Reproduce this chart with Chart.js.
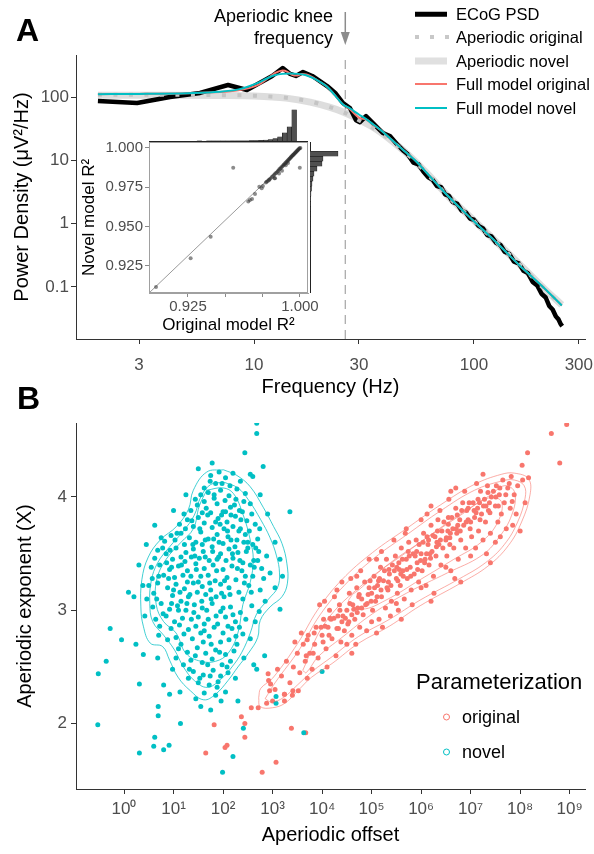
<!DOCTYPE html>
<html lang="en">
<head>
<meta charset="UTF-8">
<meta name="viewport" content="width=device-width, initial-scale=1.0">
<title>Aperiodic knee fits</title>
<script src="https://cdn.jsdelivr.net/npm/chart.js"></script>
<style>
  body { margin: 0; background: #fff; }
  #fig { position: relative; width: 594px; height: 854px; overflow: hidden;
         font-family: "Liberation Sans", Arial, sans-serif; color: #000; }
  #fig canvas { position: absolute; }
  .t { position: absolute; white-space: nowrap; line-height: 1; transform: translateY(-50%); }
  .panel { font-weight: bold; font-size: 32px; }
  .leg { font-size: 16.5px; }
  .key { position: absolute; transform: translateY(-50%); }
</style>
</head>
<body>
<div id="fig">
  <canvas id="psdChart" width="594" height="400" style="left:0px;top:0px"></canvas>
  <canvas id="histTop" width="159" height="42" style="left:149px;top:100px"></canvas>
  <canvas id="r2Chart" width="250" height="210" style="left:70px;top:130px"></canvas>
  <canvas id="histRight" width="40" height="151" style="left:309px;top:142px"></canvas>
  <canvas id="paramChart" width="594" height="454" style="left:0px;top:400px"></canvas>

  <div class="t panel" style="left:16px;top:30px">A</div>
  <div class="t panel" style="left:17px;top:398px">B</div>

  <div class="t" style="right:261px;top:16px;font-size:18px">Aperiodic knee</div>
  <div class="t" style="right:261px;top:38px;font-size:18px">frequency</div>

  <div class="key" style="left:415px;top:14px;width:32px;height:4.5px;background:#000"></div>
  <div class="key" style="left:415px;top:37px;width:34px;height:4px;background:repeating-linear-gradient(90deg,#c8c8c8 0 4px,transparent 4px 15px)"></div>
  <div class="key" style="left:415px;top:61px;width:32px;height:7px;background:#e0e0e0"></div>
  <div class="key" style="left:415px;top:84px;width:32px;height:2px;background:#F8766D"></div>
  <div class="key" style="left:415px;top:108px;width:32px;height:2px;background:#00BFC4"></div>
  <div class="t leg" style="left:456px;top:14px">ECoG PSD</div>
  <div class="t leg" style="left:456px;top:37px">Aperiodic original</div>
  <div class="t leg" style="left:456px;top:61px">Aperiodic novel</div>
  <div class="t leg" style="left:456px;top:84px">Full model original</div>
  <div class="t leg" style="left:456px;top:108px">Full model novel</div>

  <div class="t" style="left:416px;top:682px;font-size:22px">Parameterization</div>
  <div class="key" style="left:443px;top:717px;width:5px;height:5px;border:1.6px solid #F8766D;border-radius:50%"></div>
  <div class="key" style="left:443px;top:752px;width:5px;height:5px;border:1.6px solid #00BFC4;border-radius:50%"></div>
  <div class="t" style="left:462px;top:717px;font-size:18px">original</div>
  <div class="t" style="left:462px;top:752px;font-size:18px">novel</div>
</div>

<script>
    // ---- Panel A: power spectrum (Hz, uV^2/Hz) ----
    const psdFreq = [1.95, 2.94, 4.15, 5.68, 7.62, 9.29, 10.6, 12.1, 13.5, 14.6, 15.5, 16.7, 18.4, 21.5, 23.4,
        25.4, 27.3, 29.1, 30.3, 32.3, 35.1, 38.5, 41.5, 45, 48, 50, 53, 56, 59, 62, 65, 68, 71, 74, 77, 80, 84,
        88, 92, 96, 100, 105, 110, 115, 120, 126, 132, 138, 145, 152, 160, 168, 176, 185, 194, 203, 212, 220,
        228, 236, 242, 248, 252];
    const psdPower = [86.5, 80.4, 100, 116, 155, 129, 166, 215, 287, 231, 215, 248, 215, 149, 116,
        80, 67, 43, 40, 50, 37.4, 27, 24.2, 17.5, 14.0, 12.5, 9.2, 8.6, 6.6, 5.4, 4.9, 3.9, 3.75, 2.9, 2.75, 2.2, 2.05,
        1.6, 1.5, 1.2, 1.15, 0.92, 0.84, 0.66, 0.63, 0.50, 0.46, 0.36, 0.33, 0.25, 0.235, 0.18, 0.165, 0.12, 0.105, 0.078, 0.068, 0.050,
        0.044, 0.034, 0.031, 0.026, 0.024];

    const apOrigFreq = [1.95, 4, 7, 10, 14, 18, 22, 25.4, 30.3, 36, 43, 52, 63, 77, 100, 130, 170, 210, 251];
    const apOrigPower = [109, 109, 107, 105, 97, 85, 70, 58, 42, 30, 19.2, 10.9, 5.55, 2.6, 1.1, 0.465, 0.19, 0.091, 0.051];

    const apNovelFreq = [1.95, 4, 7, 10, 14, 18, 22, 25.4, 30.3, 36, 43, 52, 63, 77, 100, 130, 170, 210, 251];
    const apNovelPower = [107, 107, 106, 104, 96, 83, 69, 58, 43.3, 31, 19.5, 11.0, 5.6, 2.63, 1.12, 0.47, 0.19, 0.092, 0.052];

    const fullOrigFreq = [1.95, 3, 5, 7, 8.5, 9.5, 10.6, 11.5, 12.5, 13.5, 14.2, 15.0, 15.6, 16.5, 17.3, 18.5, 20,
        21.5, 23.3, 25.3, 27.3, 29, 30.5, 32, 35, 38.6, 42, 46, 50, 55, 60, 66, 77, 100, 130, 161, 200, 251];
    const fullOrigPower = [111, 112, 115, 120, 128, 138, 160, 195, 240, 262, 250, 222, 218, 232, 228, 205, 172,
        145, 107, 77, 64, 52, 46, 45, 36, 28, 21.5, 16.2, 12.6, 9.4, 6.75, 4.7, 2.63, 1.09, 0.46, 0.22, 0.11, 0.051];

    const fullNovelFreq = [1.95, 3, 5, 7, 8.5, 9.5, 10.6, 11.5, 12.5, 13.5, 14.6, 15.8, 17.1, 18.5, 20,
        21.5, 23.3, 25.3, 27.3, 30, 32, 35, 38.6, 42, 46, 50, 55, 60, 66, 77, 100, 130, 161, 200, 251];
    const fullNovelPower = [111, 112, 115, 121, 132, 148, 172, 198, 222, 232, 235, 232, 222, 200, 172,
        145, 107, 77, 66, 53, 46, 36.5, 28, 21.5, 16.2, 12.6, 9.4, 6.75, 4.7, 2.63, 1.09, 0.46, 0.22, 0.11, 0.051];

    const kneeFreq = 26;
    const freqTicks = [3, 10, 30, 100, 300];
    const powerTicks = [0.1, 1, 10, 100];

    // ---- Inset: R^2 of original vs novel model ----
    const r2Original = [0.9036, 0.9268, 0.9402, 0.9553, 0.9654, 0.9665, 0.9679, 0.9699, 0.9728, 0.9744, 0.9752,
        0.9777, 0.9793, 0.9833, 0.9999, 0.9772, 0.9785, 0.9795, 0.9803, 0.9812, 0.9820, 0.9828, 0.9835, 0.9842,
        0.9850, 0.9856, 0.9862, 0.9868, 0.9874, 0.9880, 0.9886, 0.9891, 0.9896, 0.9901, 0.9906, 0.9911, 0.9916,
        0.9921, 0.9925, 0.9930, 0.9934, 0.9938, 0.9942, 0.9946, 0.9950, 0.9954, 0.9958, 0.9962, 0.9966, 0.9970,
        0.9974, 0.9978, 0.9982, 0.9986, 0.9990, 0.9994, 0.9998, 1.0003, 0.9830, 0.9860, 0.9880, 0.9905, 0.9920];
    const r2Novel = [0.9116, 0.9299, 0.9436, 0.9875, 0.9659, 0.9669, 0.9676, 0.9708, 0.9754, 0.9744, 0.9758,
        0.9786, 0.9797, 0.9807, 0.9875, 0.9780, 0.9790, 0.9800, 0.9806, 0.9815, 0.9822, 0.9829, 0.9838, 0.9843,
        0.9851, 0.9857, 0.9864, 0.9869, 0.9876, 0.9881, 0.9887, 0.9893, 0.9897, 0.9903, 0.9908, 0.9913, 0.9917,
        0.9922, 0.9927, 0.9931, 0.9935, 0.9940, 0.9944, 0.9948, 0.9952, 0.9955, 0.9959, 0.9963, 0.9967, 0.9971,
        0.9975, 0.9979, 0.9983, 0.9987, 0.9991, 0.9995, 0.9998, 1.0000, 0.9808, 0.9838, 0.9855, 0.9890, 0.9905];
    const r2LineX = [0.8989, 1.0007];
    const r2LineY = [0.9078, 1.0];
    const r2Ticks = [0.925, 0.95, 0.975, 1.0];
    const r2XLabelled = [0.925, 1.0];

    const r2Bins = [0.93167, 0.935, 0.93833, 0.94167, 0.945, 0.94833, 0.95167, 0.955, 0.95833, 0.96167, 0.965,
        0.96833, 0.97167, 0.975, 0.97833, 0.98167, 0.985, 0.98833, 0.99167, 0.995, 0.99833];
    const r2OrigCounts = [1, 0, 1, 1, 1, 1, 1, 2, 2, 3, 5, 6, 9, 12, 18, 28, 46, 78, 150, 262, 580];
    const r2NovelCounts = [1, 1, 1, 1, 1, 2, 2, 3, 4, 6, 10, 14, 20, 30, 40, 60, 80, 140, 240, 260, 560];

    // ---- Panel B: [log10 offset, exponent] ----
    const novelPoints = [
        [1.75,4.19],[1.92,4.22],[2.05,4.17],[2.20,4.21],[1.85,4.12],[2.35,4.14],[1.62,4.08],
        [1.70,4.04],[1.95,4.06],[2.12,4.01],[2.28,4.07],[1.55,4.02],[2.45,4.03],[1.82,3.99],[2.04,3.97],
        [1.48,3.93],[1.66,3.90],[1.88,3.94],[2.15,3.91],[2.33,3.88],[2.55,3.94],[1.75,3.86],[2.00,3.87],[2.42,3.96],[1.35,3.88],
        [1.28,3.80],[1.50,3.82],[1.62,3.77],[1.90,3.81],[2.08,3.78],[2.25,3.83],[2.48,3.79],[2.65,3.76],[1.40,3.74],[1.78,3.73],
        [2.02,3.72],[2.35,3.72],[2.58,3.85],[1.12,3.76],
        [0.95,3.66],[1.15,3.68],[1.32,3.64],[1.55,3.69],[1.70,3.63],[1.88,3.67],[2.10,3.65],[2.28,3.62],[2.45,3.67],[2.70,3.63],
        [1.45,3.60],[2.00,3.59],[2.60,3.58],[1.22,3.58],[0.82,3.61],
        [0.68,3.53],[0.85,3.50],[1.05,3.55],[1.25,3.51],[1.40,3.54],[1.60,3.52],[1.78,3.56],[1.95,3.50],[2.12,3.54],[2.30,3.51],
        [2.50,3.55],[2.72,3.52],[2.88,3.48],[1.52,3.46],[1.88,3.45],[2.20,3.46],[2.62,3.44],[0.98,3.45],[1.15,3.47],
        [0.55,3.38],[0.72,3.40],[0.92,3.36],[1.10,3.39],[1.28,3.35],[1.45,3.41],[1.62,3.37],[1.80,3.40],[2.00,3.36],[2.18,3.39],
        [2.38,3.35],[2.55,3.40],[2.78,3.37],[2.95,3.33],[0.80,3.31],[1.35,3.30],[1.70,3.31],[2.08,3.29],[2.45,3.30],[1.02,3.29],
        [0.50,3.22],[0.68,3.24],[0.88,3.20],[1.05,3.23],[1.22,3.19],[1.40,3.24],[1.58,3.21],[1.75,3.18],[1.95,3.23],[2.12,3.20],
        [2.32,3.16],[2.52,3.22],[2.75,3.18],[0.60,3.15],[0.98,3.13],[1.30,3.12],[1.65,3.14],[2.02,3.12],[2.40,3.10],[1.15,3.08],
        [0.58,3.03],[0.75,3.06],[0.92,3.01],[1.08,3.04],[1.25,3.00],[1.42,3.05],[1.58,3.02],[1.78,3.06],[1.95,2.99],[2.15,3.03],
        [2.35,2.98],[2.58,3.04],[0.85,2.95],[1.18,2.93],[1.50,2.94],[1.70,2.92],[2.05,2.94],[2.25,2.90],
        [0.72,2.86],[0.95,2.84],[1.12,2.87],[1.30,2.83],[1.45,2.86],[1.62,2.82],[1.82,2.85],[2.00,2.80],[2.18,2.84],[2.40,2.79],
        [1.05,2.76],[1.38,2.75],[1.72,2.77],[1.95,2.72],[2.28,2.70],[0.88,2.74],
        [1.10,2.66],[1.28,2.63],[1.48,2.67],[1.65,2.62],[1.85,2.65],[2.05,2.61],[2.22,2.64],[1.35,2.56],[1.58,2.54],[1.78,2.57],
        [1.98,2.52],[2.15,2.55],[1.20,2.52],
        [1.40,2.46],[1.60,2.43],[1.80,2.47],[1.95,2.42],[2.10,2.45],[1.50,2.36],[1.72,2.34],[1.90,2.37],[1.62,2.27],[1.85,2.25],
        [1.36,3.47],[1.58,3.58],[1.72,3.44],[1.92,3.60],[2.06,3.44],[2.24,3.56],[2.40,3.42],[1.28,3.25],[1.48,3.16],[1.84,3.26],
        [2.26,3.27],[2.60,3.30],[1.16,3.40],[1.94,3.76],[2.16,3.84],[1.62,3.96],[1.82,4.02],[1.10,3.00],[1.36,2.92],[1.62,2.88],
        [1.86,2.95],[2.10,2.86],[0.70,3.30],[0.86,3.42],[2.70,3.44],[1.00,3.18],[1.55,3.30],[2.32,3.70],[2.50,3.60],[1.76,3.10],
        [0.62,3.46],[0.78,3.55],[0.90,3.28],[1.03,3.62],[1.19,3.31],[1.24,3.72],[1.33,3.14],[1.39,3.58],[1.46,3.36],[1.53,3.72],
        [1.57,3.08],[1.64,3.47],[1.69,3.84],[1.73,3.24],[1.81,3.63],[1.86,3.12],[1.91,3.47],[1.97,3.84],[2.03,3.26],[2.09,3.70],
        [2.14,3.14],[2.19,3.50],[2.23,3.93],[2.29,3.37],[2.36,3.80],[2.43,3.24],[2.47,3.52],[2.53,3.70],[2.57,3.16],[2.66,3.55],
        [2.82,3.28],[2.74,3.72],[0.66,3.10],[0.79,2.97],[0.96,3.06],[1.02,2.90],[1.21,2.79],[1.27,3.06],[1.41,2.98],[1.55,2.80],
        [1.67,3.00],[1.76,2.70],[1.89,2.88],[2.00,3.02],[2.12,2.74],[2.20,2.96],[2.33,2.85],[2.46,2.92],[1.15,2.70],[1.44,2.60],
        [1.69,2.52],[1.93,2.63],[2.08,2.50],[1.32,2.48],[1.53,2.40],[1.88,2.32],[1.74,4.14],[1.98,4.12],[2.14,4.10],[1.44,3.98],
        [2.26,3.98],[2.39,3.87],[1.58,3.86],[1.21,3.85],[1.07,3.68],[0.93,3.53],[0.75,3.64],[0.57,3.28],[0.46,3.10],[0.64,2.92],
        [1.87,3.35],[1.64,3.62],[2.16,3.62],[1.43,3.48],[1.23,3.43],[2.42,3.60],[2.63,3.38],[1.79,3.52],[1.97,3.15],[1.13,3.16],
        [1.37,3.79],[1.85,3.78],[2.05,3.87],[2.20,3.74],[1.50,3.25],[2.34,3.44],[0.96,3.38],[1.60,2.72],[2.26,2.77],[1.74,2.42],
        [0.30,3.40],[0.20,3.12],[0.45,3.58],[0.62,3.75],[1.00,3.88],[1.25,4.02],[1.50,4.25],[2.55,4.20],[2.75,4.02],[2.90,3.85],
        [3.05,3.60],[3.15,3.45],[3.20,3.30],[3.05,3.20],[2.85,3.08],[2.65,2.90],[2.55,2.75],[2.42,2.58],[2.25,2.40],[2.05,2.28],
        [1.30,2.40],[1.05,2.58],[0.70,2.78],[0.42,2.95],[0.38,3.22],[1.55,2.15],[1.75,2.12],[1.45,2.22],[2.30,2.20],[2.62,2.52],
        [0.98,2.48],
        [2.68,4.65],[2.68,4.56],[2.44,4.39],[2.81,4.27],[1.78,4.30],[2.60,4.18],[3.35,3.87],[0.09,3.16],[-0.28,2.84],[-0.05,2.74],
        [0.24,2.70],[3.15,3.01],[2.73,2.99],[-0.52,2.44],[-0.36,2.55],[0.31,2.35],[-0.53,1.99],[0.31,1.74],[0.60,1.80],[0.62,1.88],
        [0.80,1.77],[0.91,1.81],[0.69,2.07],[0.69,2.15],[1.14,2.00],[1.13,2.28],[0.92,2.26],[0.80,2.34],[0.39,2.61],[0.68,2.58],
        [1.99,1.57],[2.20,1.71],[2.41,1.96],[3.07,2.18],[3.07,2.24],[3.63,1.92],[4.00,2.46],[2.68,2.48],[1.96,2.20],[2.84,2.60]
    ];
    const originalPoints = [
        [2.92,2.38],[3.05,2.30],[3.10,2.48],[3.18,2.42],[3.28,2.55],[3.35,2.36],[3.42,2.50],[3.24,2.26],
        [3.50,2.62],[3.55,2.45],[3.62,2.70],[3.66,2.55],[3.72,2.78],[3.75,2.62],[3.80,2.48],[3.85,2.70],[3.88,2.85],[3.58,2.80],[3.92,2.58],
        [4.00,2.78],[4.03,2.92],[4.08,2.66],[4.12,2.85],[4.15,3.00],[4.20,2.75],[4.24,2.93],[4.28,2.60],[4.30,2.84],[4.35,3.05],
        [4.38,2.72],[4.42,2.95],[4.05,3.08],[4.25,3.12],[4.45,2.82],
        [4.50,3.00],[4.52,2.88],[4.55,3.15],[4.60,2.78],[4.62,3.05],[4.66,2.92],[4.70,3.20],[4.72,3.02],[4.76,2.85],[4.80,3.10],
        [4.83,2.96],[4.86,3.25],[4.88,3.05],[4.58,3.28],[4.68,2.70],[4.90,2.82],[4.78,3.35],
        [5.00,3.15],[5.02,3.00],[5.05,3.30],[5.08,3.08],[5.12,3.22],[5.15,2.92],[5.18,3.38],[5.20,3.12],[5.24,3.26],[5.28,3.02],
        [5.30,3.45],[5.33,3.18],[5.36,3.32],[5.40,3.08],[5.42,3.40],[5.10,3.45],[5.22,2.85],[5.38,2.95],
        [5.50,3.28],[5.52,3.15],[5.55,3.42],[5.58,3.22],[5.60,3.55],[5.63,3.35],[5.66,3.10],[5.70,3.45],[5.72,3.28],[5.75,3.60],
        [5.78,3.38],[5.80,3.18],[5.84,3.50],[5.86,3.32],[5.90,3.62],[5.92,3.42],[5.54,3.00],[5.68,3.68],[5.82,3.05],[5.95,3.25],
        [6.00,3.50],[6.02,3.35],[6.05,3.68],[6.08,3.45],[6.10,3.22],[6.14,3.58],[6.16,3.40],[6.20,3.75],[6.22,3.52],[6.25,3.30],
        [6.28,3.65],[6.30,3.48],[6.34,3.80],[6.36,3.58],[6.40,3.40],[6.42,3.70],[6.12,3.85],[6.26,3.15],[6.38,3.88],
        [6.50,3.62],[6.52,3.48],[6.55,3.82],[6.58,3.58],[6.60,3.35],[6.64,3.72],[6.66,3.55],[6.70,3.90],[6.72,3.68],[6.75,3.45],
        [6.78,3.80],[6.80,3.62],[6.84,3.95],[6.86,3.75],[6.90,3.55],[6.92,3.88],[6.56,3.98],[6.68,3.28],[6.88,4.05],
        [7.00,3.78],[7.02,3.65],[7.05,3.95],[7.08,3.82],[7.10,3.55],[7.14,3.90],[7.16,3.70],[7.20,4.05],[7.22,3.85],[7.25,3.62],
        [7.28,3.98],[7.30,3.78],[7.34,4.10],[7.36,3.88],[7.40,3.68],[7.42,4.00],[7.12,4.12],[7.32,3.50],
        [7.50,3.92],[7.52,4.10],[7.55,3.78],[7.58,4.02],[7.62,3.85],[7.65,4.15],[7.68,3.95],[7.72,3.72],[7.75,4.08],[7.80,3.90],
        [7.82,4.18],[7.88,4.02],[7.92,3.85],[7.95,4.10],[7.60,3.65],[7.85,3.75],
        [4.47,2.93],[4.64,3.01],[4.74,3.12],[4.93,3.14],[4.97,3.26],[5.06,3.20],[5.16,3.28],[5.26,3.35],[5.34,3.25],[5.46,3.35],
        [5.48,3.48],[5.62,3.45],[5.64,3.30],[5.74,3.52],[5.88,3.48],[5.96,3.58],[6.04,3.60],[6.07,3.42],[6.18,3.50],[6.24,3.66],
        [6.32,3.60],[6.44,3.55],[6.46,3.78],[6.54,3.70],[6.62,3.82],[6.74,3.75],[6.82,3.88],[6.95,3.80],[6.97,3.95],[7.07,3.88],
        [7.18,3.95],[7.26,3.92],[7.38,3.95],[7.46,4.05],[4.32,2.95],[4.18,2.92],[3.98,2.85],[5.56,3.36],[6.12,3.65],[6.58,3.64],
        [3.68,2.60],[3.70,2.74],[3.82,2.62],[3.84,2.80],[4.02,2.72],[4.06,2.86],[4.14,2.78],[4.16,2.93],[4.33,2.84],[4.36,3.00],
        [4.40,2.90],[4.54,2.90],[4.56,3.06],[4.60,2.96],[4.71,2.98],[4.75,3.14],[4.80,3.02],[4.91,3.06],[4.95,3.20],[4.99,3.08],
        [5.11,3.12],[5.14,3.26],[5.19,3.18],[5.31,3.20],[5.35,3.36],[5.39,3.22],[5.51,3.38],[5.53,3.26],[5.59,3.32],[5.71,3.36],
        [5.76,3.48],[5.79,3.30],[5.91,3.52],[5.93,3.36],[5.99,3.44],[6.11,3.50],[6.15,3.62],[6.19,3.46],[6.31,3.56],[6.33,3.70],
        [6.39,3.62],[6.51,3.64],[6.55,3.76],[6.59,3.68],[6.71,3.72],[6.73,3.84],[6.79,3.70],[6.91,3.78],[6.95,3.90],[6.99,3.72],
        [7.11,3.86],[7.15,3.98],[7.19,3.80],[7.31,3.92],[7.35,4.04],[7.39,3.86],[7.51,4.00],[7.56,3.92],[7.59,4.08],[7.71,4.02],
        [7.78,4.12],[7.84,3.96],[4.30,3.18],[4.70,3.30],[5.20,3.52],[5.70,3.72],[6.20,3.92],[6.70,4.08],[4.50,2.70],[5.00,2.90],
        [5.50,3.06],[6.00,3.20],[6.50,3.38],[7.00,3.48],[7.50,3.60],
        [3.40,2.25],[3.70,2.40],[4.10,2.50],[4.60,2.62],[5.10,2.80],[5.60,2.92],[6.20,3.08],[6.80,3.25],[7.40,3.42],[8.00,3.70],
        [8.10,3.95],[8.05,4.15],[3.45,2.72],[3.95,3.05],[4.40,3.25],[4.95,3.45],[5.45,3.62],[6.00,3.80],[6.60,4.05],[7.25,4.20],
        [1.82,1.99],[1.65,1.74],[2.04,1.79],[2.08,1.81],[2.37,2.06],[2.44,2.00],[2.44,1.88],[2.79,1.57],[3.07,1.66],[3.38,1.96],
        [3.67,1.92],[2.57,2.14],[2.71,2.14],[2.88,2.18],[2.94,2.29],[3.00,2.20],[3.24,2.20],[3.24,2.26],[2.91,2.44],[2.96,2.35],
        [3.41,2.29],[3.52,2.29],[8.94,4.64],[8.63,4.56],[8.80,4.30],[8.15,4.39],[8.04,4.28],[8.17,4.17]
    ];

    // density contour levels, outer to inner
    const novelContours = [
        [[2.01,4.24],[2.28,4.19],[2.55,4.09],[2.81,3.91],[3.02,3.74],[3.19,3.59],[3.29,3.41],[3.30,3.24],[3.19,3.12],[2.95,3.03],
         [2.75,2.91],[2.70,2.76],[2.51,2.62],[2.30,2.50],[2.10,2.38],[1.85,2.26],[1.61,2.21],[1.34,2.29],[1.09,2.41],[0.92,2.56],
         [0.78,2.68],[0.53,2.71],[0.39,2.86],[0.34,3.03],[0.36,3.27],[0.49,3.47],[0.73,3.62],[1.06,3.74],[1.30,3.89],[1.40,4.06],
         [1.67,4.22],[2.01,4.24]],
        [[2.02,4.13],[2.30,4.08],[2.52,3.97],[2.76,3.80],[2.95,3.64],[3.08,3.48],[3.14,3.33],[3.10,3.20],[2.92,3.10],[2.68,2.97],
         [2.55,2.80],[2.38,2.63],[2.18,2.50],[1.95,2.39],[1.68,2.32],[1.42,2.38],[1.20,2.50],[1.02,2.65],[0.80,2.78],[0.58,2.90],
         [0.52,3.06],[0.55,3.26],[0.68,3.42],[0.92,3.56],[1.20,3.70],[1.42,3.84],[1.55,4.00],[1.75,4.11],[2.02,4.13]],
        [[1.67,4.06],[2.00,4.08],[2.21,4.03],[2.40,3.85],[2.55,3.62],[2.61,3.45],[2.55,3.25],[2.40,3.05],[2.30,2.80],[2.10,2.62],
         [1.85,2.55],[1.55,2.55],[1.25,2.62],[1.05,2.80],[0.80,2.90],[0.65,3.05],[0.66,3.27],[0.85,3.45],[1.15,3.60],[1.40,3.72],
         [1.52,3.92],[1.67,4.06]]
    ];
    const originalContours = [
        [[2.72,2.23],[2.76,2.31],[3.00,2.40],[3.51,2.71],[3.92,3.01],[4.40,3.27],[5.02,3.51],[5.70,3.72],[6.39,3.93],[7.07,4.11],
         [7.62,4.20],[7.89,4.21],[8.17,4.16],[8.20,4.02],[8.03,3.78],[7.76,3.57],[7.35,3.39],[6.80,3.24],[5.98,3.04],[5.36,2.86],
         [4.74,2.71],[4.20,2.53],[3.79,2.41],[3.51,2.29],[3.25,2.18],[3.00,2.14],[2.75,2.15],[2.72,2.23]],
        [[2.85,2.22],[3.05,2.36],[3.55,2.66],[3.96,2.96],[4.45,3.22],[5.05,3.46],[5.72,3.67],[6.40,3.88],[7.08,4.06],[7.62,4.14],
         [7.88,4.15],[8.08,4.10],[8.10,3.99],[7.95,3.78],[7.68,3.58],[7.30,3.42],[6.78,3.28],[5.98,3.09],[5.36,2.92],[4.74,2.77],
         [4.20,2.59],[3.80,2.46],[3.50,2.34],[3.22,2.23],[2.98,2.19],[2.85,2.22]],
        [[3.61,2.47],[4.06,2.89],[4.88,3.25],[5.70,3.51],[6.66,3.81],[7.41,4.02],[7.69,4.10],[7.89,4.04],[7.83,3.84],[7.55,3.63],
         [7.21,3.48],[6.53,3.33],[5.70,3.15],[5.02,2.97],[4.40,2.76],[3.92,2.59],[3.68,2.45],[3.61,2.47]],
        [[4.61,3.14],[4.74,3.18],[5.29,3.39],[5.98,3.60],[6.80,3.84],[7.35,3.99],[7.62,3.96],[7.55,3.78],[7.21,3.60],[6.66,3.45],
         [5.98,3.27],[5.29,3.09],[4.81,3.01],[4.54,3.07],[4.61,3.14]]
    ];
    const offsetTicks = [0, 1, 2, 3, 4, 5, 6, 7, 8, 9];
    const exponentTicks = [2, 3, 4];

    // ---- helpers ----
    Chart.defaults.font.family = '"Liberation Sans", Arial, sans-serif';
    Chart.defaults.color = '#4d4d4d';
    const xy = (xs, ys) => xs.map((x, i) => ({ x: x, y: ys[i] }));
    const pts = arr => arr.map(p => ({ x: p[0], y: p[1] }));
    const sup = ['\u2070', '\u00b9', '\u00b2', '\u00b3', '\u2074', '\u2075', '\u2076', '\u2077', '\u2078', '\u2079'];
    const base = { responsive: false, animation: false, events: [],
        plugins: { legend: { display: false }, tooltip: { enabled: false } } };
    // fix axis box sizes so the plot areas land where the figure has them
    const fixH = h => s => { s.height = h; s.paddingLeft = 0; s.paddingRight = 0; };
    const fixW = w => s => { s.width = w; s.paddingTop = 0; s.paddingBottom = 0; };

    const psdYMin = 0.01503, psdYMax = 461;

    const kneeArrow = {
        id: 'kneeArrow',
        afterDraw(chart) {
            const x = chart.scales.x.getPixelForValue(kneeFreq);
            const c = chart.ctx;
            c.save();
            c.strokeStyle = '#8c8c8c';
            c.fillStyle = '#8c8c8c';
            c.lineWidth = 1.5;
            c.beginPath(); c.moveTo(x, 12); c.lineTo(x, 34); c.stroke();
            c.beginPath(); c.moveTo(x - 4.5, 32); c.lineTo(x + 4.5, 32); c.lineTo(x, 45); c.closePath(); c.fill();
            c.restore();
        }
    };

    // Panel A main chart
    new Chart(document.getElementById('psdChart').getContext('2d'), {
        type: 'scatter',
        data: {
            datasets: [
                { data: xy(fullNovelFreq, fullNovelPower), showLine: true, borderColor: '#00BFC4', borderWidth: 2,
                  pointRadius: 0, cubicInterpolationMode: 'monotone' },
                { data: xy(fullOrigFreq, fullOrigPower), showLine: true, borderColor: '#F8766D', borderWidth: 2,
                  pointRadius: 0, cubicInterpolationMode: 'monotone' },
                { data: xy(apOrigFreq, apOrigPower), showLine: true, borderColor: '#c4c4c4', borderWidth: 4,
                  borderDash: [4, 11.5], borderCapStyle: 'butt', pointRadius: 0, cubicInterpolationMode: 'monotone' },
                { data: xy(psdFreq, psdPower), showLine: true, borderColor: '#000', borderWidth: 4.5,
                  borderJoinStyle: 'round', pointRadius: 0 },
                { data: xy(apNovelFreq, apNovelPower), showLine: true, borderColor: 'rgba(215,215,215,0.85)', borderWidth: 7,
                  pointRadius: 0, cubicInterpolationMode: 'monotone' },
                { data: [{ x: kneeFreq, y: psdYMin }, { x: kneeFreq, y: psdYMax }], showLine: true, borderColor: '#a5a5a5',
                  borderWidth: 1.2, borderDash: [9, 6], pointRadius: 0 }
            ]
        },
        options: Object.assign({}, base, {
            layout: { padding: { left: 0, right: 9, top: 55, bottom: 0 } },
            scales: {
                x: {
                    type: 'logarithmic', min: 1.55, max: 320,
                    afterBuildTicks: s => { s.ticks = freqTicks.map(v => ({ value: v })); },
                    afterFit: fixH(61),
                    ticks: { color: '#4d4d4d', font: { size: 17 }, padding: 11, maxRotation: 0, autoSkip: false,
                             callback: v => String(v) },
                    grid: { drawOnChartArea: false, tickLength: 5, color: '#333' },
                    border: { color: '#333' },
                    title: { display: true, text: 'Frequency (Hz)', color: '#000', font: { size: 20 },
                             padding: { top: 0, bottom: 1 } }
                },
                y: {
                    type: 'logarithmic', min: psdYMin, max: psdYMax,
                    afterBuildTicks: s => { s.ticks = powerTicks.map(v => ({ value: v })); },
                    afterFit: fixW(76),
                    ticks: { color: '#4d4d4d', font: { size: 17 }, padding: 2, autoSkip: false,
                             callback: v => String(v) },
                    grid: { drawOnChartArea: false, tickLength: 5, color: '#333' },
                    border: { color: '#333' },
                    title: { display: true, text: 'Power Density (\u03bcV\u00b2/Hz)', color: '#000', font: { size: 20 },
                             padding: { top: 10, bottom: 0 } }
                }
            }
        }),
        plugins: [kneeArrow]
    });

    // inset: R^2 scatter
    const insetX = { min: 0.8989, max: 1.0054 };
    const insetY = { min: 0.9078, max: 1.0038 };
    const frame = {
        id: 'frame',
        afterDraw(chart) {
            const a = chart.chartArea, c = chart.ctx;
            c.save();
            c.strokeStyle = '#a0a0a0';
            c.lineWidth = 1;
            c.strokeRect(a.left + 0.5, a.top + 0.5, a.right - a.left - 1, a.bottom - a.top - 1);
            c.restore();
        }
    };
    new Chart(document.getElementById('r2Chart').getContext('2d'), {
        type: 'scatter',
        data: {
            datasets: [
                { data: xy(r2Original, r2Novel), pointRadius: 2, backgroundColor: 'rgba(45,45,45,0.55)', borderWidth: 0 },
                { data: xy(r2LineX, r2LineY), showLine: true, borderColor: '#9a9a9a', borderWidth: 1, pointRadius: 0 }
            ]
        },
        options: Object.assign({}, base, {
            layout: { padding: { left: 0, right: 12, top: 12, bottom: 0 } },
            scales: {
                x: {
                    type: 'linear', min: insetX.min, max: insetX.max,
                    afterBuildTicks: s => { s.ticks = r2Ticks.map(v => ({ value: v })); },
                    afterFit: fixH(47),
                    ticks: { color: '#4d4d4d', font: { size: 15 }, padding: 1, maxRotation: 0, autoSkip: false,
                             callback: v => r2XLabelled.includes(v) ? v.toFixed(3) : '' },
                    grid: { drawOnChartArea: false, tickLength: 4, color: '#8a8a8a' },
                    border: { color: '#a0a0a0' },
                    title: { display: true, text: 'Original model R\u00b2', color: '#000', font: { size: 17 },
                             padding: { top: 0, bottom: 4 } }
                },
                y: {
                    type: 'linear', min: insetY.min, max: insetY.max,
                    afterBuildTicks: s => { s.ticks = r2Ticks.map(v => ({ value: v })); },
                    afterFit: fixW(79),
                    ticks: { color: '#4d4d4d', font: { size: 15 }, padding: 2, autoSkip: false,
                             callback: v => v.toFixed(3) },
                    grid: { drawOnChartArea: false, tickLength: 4, color: '#8a8a8a' },
                    border: { color: '#a0a0a0' },
                    title: { display: true, text: 'Novel model R\u00b2', color: '#000', font: { size: 17 },
                             padding: { top: 9, bottom: 0 } }
                }
            }
        }),
        plugins: [frame]
    });

    // marginal histograms
    const histBar = { backgroundColor: '#505050', borderColor: '#1a1a1a', borderWidth: 0.6,
                      barPercentage: 1, categoryPercentage: 1 };
    new Chart(document.getElementById('histTop').getContext('2d'), {
        type: 'bar',
        data: { datasets: [Object.assign({ data: xy(r2Bins, r2OrigCounts) }, histBar)] },
        options: Object.assign({}, base, {
            layout: { padding: 0 },
            scales: {
                x: { type: 'linear', min: insetX.min, max: insetX.max,
                     afterBuildTicks: s => { s.ticks = r2Bins.map(v => ({ value: v })); },
                     afterFit: fixH(1),
                     ticks: { display: false }, grid: { display: false }, border: { color: '#222' } },
                y: { display: false, min: 0, max: 760 }
            }
        })
    });
    new Chart(document.getElementById('histRight').getContext('2d'), {
        type: 'bar',
        data: { datasets: [Object.assign({ data: r2Bins.map((b, i) => ({ x: r2NovelCounts[i], y: b })) }, histBar)] },
        options: Object.assign({}, base, {
            indexAxis: 'y',
            layout: { padding: 0 },
            scales: {
                y: { type: 'linear', min: insetY.min, max: insetY.max,
                     afterBuildTicks: s => { s.ticks = r2Bins.map(v => ({ value: v })); },
                     afterFit: fixW(1),
                     ticks: { display: false }, grid: { display: false }, border: { color: '#222' } },
                x: { display: false, min: 0, max: 780 }
            }
        })
    });

    // Panel B: offset vs exponent
    const contourSet = (list, color) => list.map(c => ({
        data: pts(c), showLine: true, borderColor: color, borderWidth: 1, pointRadius: 0, tension: 0.4
    }));
    new Chart(document.getElementById('paramChart').getContext('2d'), {
        type: 'scatter',
        data: {
            datasets: [].concat(
                contourSet(novelContours, 'rgba(0,191,196,0.75)'),
                contourSet(originalContours, 'rgba(248,118,109,0.6)'),
                [
                    { data: pts(novelPoints), pointRadius: 2.5, backgroundColor: '#00BFC4', borderWidth: 0 },
                    { data: pts(originalPoints), pointRadius: 2.5, backgroundColor: '#F8766D', borderWidth: 0 }
                ]
            )
        },
        options: Object.assign({}, base, {
            layout: { padding: { left: 0, right: 9, top: 23, bottom: 0 } },
            scales: {
                x: {
                    type: 'linear', min: -0.97, max: 9.31,
                    afterBuildTicks: s => { s.ticks = offsetTicks.map(v => ({ value: v })); },
                    afterFit: fixH(65),
                    ticks: { color: '#4d4d4d', font: { size: 17 }, padding: 5, maxRotation: 0, autoSkip: false,
                             callback: v => '10' + sup[v] },
                    grid: { drawOnChartArea: false, tickLength: 5, color: '#333' },
                    border: { color: '#333' },
                    title: { display: true, text: 'Aperiodic offset', color: '#000', font: { size: 20 },
                             padding: { top: 0, bottom: 7 } }
                },
                y: {
                    type: 'linear', min: 1.423, max: 4.653,
                    afterBuildTicks: s => { s.ticks = exponentTicks.map(v => ({ value: v })); },
                    afterFit: fixW(76),
                    ticks: { color: '#4d4d4d', font: { size: 17 }, padding: 4, autoSkip: false },
                    grid: { drawOnChartArea: false, tickLength: 5, color: '#333' },
                    border: { color: '#333' },
                    title: { display: true, text: 'Aperiodic exponent (X)', color: '#000', font: { size: 20 },
                             padding: { top: 13, bottom: 0 } }
                }
            }
        })
    });
</script>
</body>
</html>
